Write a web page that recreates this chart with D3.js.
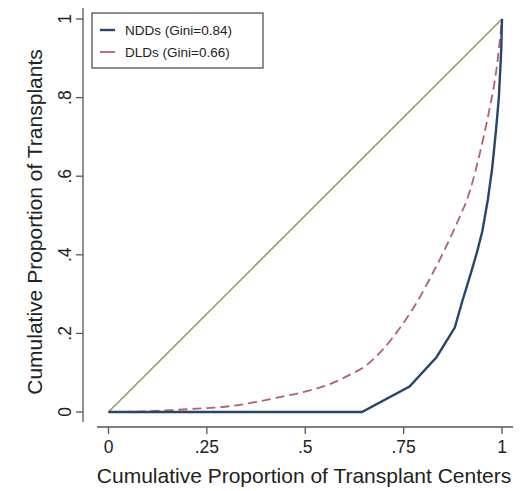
<!DOCTYPE html>
<html>
<head>
<meta charset="utf-8">
<script src="https://cdn.jsdelivr.net/npm/d3@7"></script>
<style>
  body { margin: 0; background: #fff; }
  text { font-family: "Liberation Sans", Arial, sans-serif; fill: #222; }
</style>
</head>
<body>
<div id="viz"></div>
<script>
// Lorenz curves: cumulative share of centers (x) vs cumulative share of transplants (y)
const nddX = [0, 0.644, 0.765, 0.834, 0.88, 0.90, 0.92, 0.936, 0.95, 0.964, 0.975, 0.985, 0.992, 0.998, 1];
const nddY = [0, 0, 0.065, 0.14, 0.215, 0.285, 0.35, 0.405, 0.46, 0.54, 0.62, 0.72, 0.80, 0.92, 1];
const dldX = [0, 0.1, 0.2, 0.31, 0.436, 0.5, 0.563, 0.614, 0.65, 0.698, 0.745, 0.784, 0.825, 0.86, 0.894, 0.911, 0.944, 0.966, 0.987, 1];
const dldY = [0, 0.002, 0.007, 0.015, 0.038, 0.052, 0.071, 0.095, 0.115, 0.16, 0.22, 0.28, 0.355, 0.425, 0.5, 0.54, 0.66, 0.76, 0.88, 1];
const equalityX = [0, 1];
const equalityY = [0, 1];
const xTicks = [0, 0.25, 0.5, 0.75, 1];
const xTickLabels = ["0", ".25", ".5", ".75", "1"];
const yTicks = [0, 0.2, 0.4, 0.6, 0.8, 1];
const yTickLabels = ["0", ".2", ".4", ".6", ".8", "1"];
const legendLabels = ["NDDs (Gini=0.84)", "DLDs (Gini=0.66)"];

const WIDTH = 526, HEIGHT = 491;
const COLORS = { ndd: "#26466b", dld: "#b4606c", diag: "#879b5c", axis: "#555" };

const x = d3.scaleLinear().domain([0, 1]).range([108.5, 502]);
const y = d3.scaleLinear().domain([0, 1]).range([412, 19]);

const svg = d3.select("#viz").append("svg")
  .attr("width", WIDTH)
  .attr("height", HEIGHT);

const line = d3.line().x(d => x(d[0])).y(d => y(d[1]));
const smoothLine = d3.line().x(d => x(d[0])).y(d => y(d[1])).curve(d3.curveMonotoneX);
const zip = (a, b) => a.map((v, i) => [v, b[i]]);

// axes (Stata style: detached axis lines)
const xAxisY = 427;
svg.append("line")
  .attr("x1", 97).attr("x2", 513)
  .attr("y1", xAxisY).attr("y2", xAxisY)
  .attr("stroke", COLORS.axis).attr("stroke-width", 1.3);
svg.selectAll(".xtick")
  .data(xTicks)
  .join("line")
  .attr("x1", d => x(d)).attr("x2", d => x(d))
  .attr("y1", xAxisY).attr("y2", xAxisY + 7)
  .attr("stroke", COLORS.axis).attr("stroke-width", 1.3);
svg.selectAll(".xlab")
  .data(xTicks)
  .join("text")
  .attr("x", d => x(d))
  .attr("y", xAxisY + 26)
  .attr("text-anchor", "middle")
  .style("font-size", "17.5px")
  .text((d, i) => xTickLabels[i]);

const yAxisX = 83;
svg.append("line")
  .attr("x1", yAxisX).attr("x2", yAxisX)
  .attr("y1", 8).attr("y2", 422)
  .attr("stroke", COLORS.axis).attr("stroke-width", 1.3);
svg.selectAll(".ytick")
  .data(yTicks)
  .join("line")
  .attr("x1", yAxisX - 7).attr("x2", yAxisX)
  .attr("y1", d => y(d)).attr("y2", d => y(d))
  .attr("stroke", COLORS.axis).attr("stroke-width", 1.3);
svg.selectAll(".ylab")
  .data(yTicks)
  .join("text")
  .attr("transform", d => `translate(${yAxisX - 12},${y(d)}) rotate(-90)`)
  .attr("text-anchor", "middle")
  .style("font-size", "17.5px")
  .text((d, i) => yTickLabels[i]);

svg.append("text")
  .attr("x", 304)
  .attr("y", 483)
  .attr("text-anchor", "middle")
  .style("font-size", "21px")
  .text("Cumulative Proportion of Transplant Centers");

svg.append("text")
  .attr("transform", "translate(42,222) rotate(-90)")
  .attr("text-anchor", "middle")
  .style("font-size", "21px")
  .text("Cumulative Proportion of Transplants");

// curves
svg.append("path")
  .attr("d", line(zip(equalityX, equalityY)))
  .attr("fill", "none")
  .attr("stroke", COLORS.diag)
  .attr("stroke-width", 1.5);

svg.append("path")
  .attr("d", smoothLine(zip(dldX, dldY)))
  .attr("fill", "none")
  .attr("stroke", COLORS.dld)
  .attr("stroke-width", 1.8)
  .attr("stroke-dasharray", "9,5");

svg.append("path")
  .attr("d", line(zip(nddX, nddY)))
  .attr("fill", "none")
  .attr("stroke", COLORS.ndd)
  .attr("stroke-width", 2.4);

// legend
const legend = svg.append("g").attr("transform", "translate(92,13)");
legend.append("rect")
  .attr("width", 171).attr("height", 55)
  .attr("fill", "#fff")
  .attr("stroke", "#444")
  .attr("stroke-width", 1.2);
const legendStyles = [
  { color: COLORS.ndd, width: 2.4 },
  { color: COLORS.dld, width: 1.8 }
];
legendLabels.forEach((label, i) => {
  const ly = 17 + i * 22;
  legend.append("line")
    .attr("x1", 8).attr("x2", 23)
    .attr("y1", ly).attr("y2", ly)
    .attr("stroke", legendStyles[i].color)
    .attr("stroke-width", legendStyles[i].width);
  legend.append("text")
    .attr("x", 33).attr("y", ly + 5)
    .style("font-size", "13.5px")
    .text(label);
});
</script>
</body>
</html>
